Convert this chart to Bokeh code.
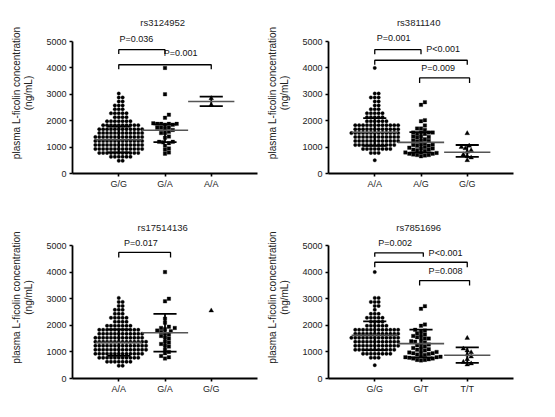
import numpy as np
from bokeh.plotting import figure
from bokeh.layouts import column, row
from bokeh.models import FixedTicker, Label, Range1d
from bokeh.embed import file_html
from bokeh.resources import INLINE

# ---------------- data ----------------
y_ticks = [0, 1000, 2000, 3000, 4000, 5000]
y_label = "plasma L-ficolin concentration\n(ng/mL)"

# rs3124952
p1_title = "rs3124952"
p1_groups = ["G/G", "G/A", "A/A"]
p1_gg = [480, 480,
         630, 630, 630, 630, 630, 630,
         780, 780, 780, 780, 780, 780, 780, 780, 780, 780, 780,
         930, 930, 930, 930, 930, 930, 930, 930, 930, 930, 930, 930, 930,
         1080, 1080, 1080, 1080, 1080, 1080, 1080, 1080, 1080, 1080, 1080, 1080, 1080,
         1230, 1230, 1230, 1230, 1230, 1230, 1230, 1230, 1230, 1230, 1230, 1230, 1230,
         1380, 1380, 1380, 1380, 1380, 1380, 1380, 1380, 1380, 1380, 1380, 1380, 1380,
         1530, 1530, 1530, 1530, 1530, 1530, 1530, 1530, 1530, 1530, 1530, 1530,
         1680, 1680, 1680, 1680, 1680, 1680, 1680, 1680, 1680, 1680, 1680, 1680,
         1830, 1830, 1830, 1830, 1830, 1830, 1830, 1830, 1830, 1830,
         1980, 1980, 1980, 1980, 1980, 1980, 1980,
         2130, 2130, 2130, 2130,
         2280, 2280, 2280, 2280, 2280,
         2430, 2430, 2430,
         2580, 2580, 2580,
         2730, 2730,
         2880, 2880,
         3030]
p1_ga = [4000, 3000, 2230, 2110, 1900, 1880, 1880, 1880, 1880, 1850, 1850, 1730, 1730,
         1730, 1700, 1650, 1580, 1530, 1530, 1400, 1350, 1200, 1200, 1180, 1150, 1050,
         950, 900, 800, 750]
p1_aa = [2600, 2850]
p1_center = [1280, 1640, 2730]
p1_low = [800, 1190, 2550]
p1_high = [1780, 1860, 2910]
p1_pairs = [(1, 2), (1, 3)]
p1_pvals = ["P=0.036", "P=0.001"]

# rs3811140
p2_title = "rs3811140"
p2_groups = ["A/A", "A/G", "G/G"]
p2_aa = [500,
         780, 780, 780,
         930, 930, 930, 930, 930, 930, 930, 930,
         1080, 1080, 1080, 1080, 1080, 1080, 1080, 1080, 1080, 1080, 1080,
         1230, 1230, 1230, 1230, 1230, 1230, 1230, 1230, 1230, 1230, 1230, 1230,
         1380, 1380, 1380, 1380, 1380, 1380, 1380, 1380, 1380, 1380, 1380, 1380,
         1530, 1530, 1530, 1530, 1530, 1530, 1530, 1530, 1530, 1530, 1530, 1530, 1530,
         1680, 1680, 1680, 1680, 1680, 1680, 1680, 1680, 1680, 1680, 1680, 1680,
         1830, 1830, 1830, 1830, 1830, 1830, 1830, 1830, 1830, 1830, 1830, 1830,
         1980, 1980, 1980, 1980, 1980, 1980,
         2130, 2130, 2130, 2130, 2130,
         2280, 2280, 2280, 2280, 2280,
         2430, 2430, 2430,
         2580, 2580,
         2730, 2730,
         2880, 2880, 2880,
         3030, 3030,
         4000]
p2_ag = [2700, 2600, 2020, 1980, 1820, 1700, 1700, 1650, 1550, 1550, 1550, 1550, 1500,
         1500, 1400, 1400, 1380, 1350, 1300, 1250, 1250, 1230, 1200, 1150, 1100, 1100,
         1080, 1050, 1050, 1000, 980, 950, 950, 900, 900, 880, 850, 800, 800, 780, 750,
         750, 720, 700, 700, 680, 650]
p2_gg = [1520, 1050, 1000, 950, 880, 820, 720, 650, 600, 500]
p2_center = [1560, 1180, 805]
p2_low = [1050, 790, 630]
p2_high = [2100, 1570, 1080]
p2_pairs = [(1, 2), (1, 3), (2, 3)]
p2_pvals = ["P=0.001", "P<0.001", "P=0.009"]

# rs17514136
p3_title = "rs17514136"
p3_groups = ["A/A", "G/A", "G/G"]
p3_aa = [480, 480,
         630, 630, 630, 630, 630, 630, 630,
         780, 780, 780, 780, 780, 780, 780, 780, 780, 780, 780,
         930, 930, 930, 930, 930, 930, 930, 930, 930, 930, 930, 930, 930,
         1080, 1080, 1080, 1080, 1080, 1080, 1080, 1080, 1080, 1080, 1080, 1080, 1080, 1080,
         1230, 1230, 1230, 1230, 1230, 1230, 1230, 1230, 1230, 1230, 1230, 1230, 1230, 1230,
         1380, 1380, 1380, 1380, 1380, 1380, 1380, 1380, 1380, 1380, 1380, 1380, 1380, 1380,
         1530, 1530, 1530, 1530, 1530, 1530, 1530, 1530, 1530, 1530, 1530, 1530, 1530,
         1680, 1680, 1680, 1680, 1680, 1680, 1680, 1680, 1680, 1680, 1680, 1680,
         1830, 1830, 1830, 1830, 1830, 1830, 1830, 1830, 1830, 1830, 1830,
         1980, 1980, 1980, 1980, 1980, 1980, 1980,
         2130, 2130, 2130, 2130,
         2280, 2280, 2280, 2280, 2280,
         2430, 2430, 2430,
         2580, 2580, 2580,
         2730, 2730,
         2880, 2880,
         3030]
p3_ga = [4000, 3000, 2900, 2250, 2100, 1950, 1900, 1900, 1850, 1800, 1780, 1750, 1700,
         1650, 1600, 1550, 1500, 1400, 1350, 1300, 1250, 1200, 1100, 1000, 950, 850,
         800, 750]
p3_gg = [2550]
p3_center = [1350, 1720, None]
p3_low = [850, 1010, None]
p3_high = [1850, 2430, None]
p3_pairs = [(1, 2)]
p3_pvals = ["P=0.017"]

# rs7851696
p4_title = "rs7851696"
p4_groups = ["G/G", "G/T", "T/T"]
p4_gg = [500,
         780, 780, 780,
         930, 930, 930, 930, 930, 930, 930, 930,
         1080, 1080, 1080, 1080, 1080, 1080, 1080, 1080, 1080, 1080, 1080,
         1230, 1230, 1230, 1230, 1230, 1230, 1230, 1230, 1230, 1230, 1230, 1230,
         1380, 1380, 1380, 1380, 1380, 1380, 1380, 1380, 1380, 1380, 1380, 1380,
         1530, 1530, 1530, 1530, 1530, 1530, 1530, 1530, 1530, 1530, 1530, 1530, 1530,
         1680, 1680, 1680, 1680, 1680, 1680, 1680, 1680, 1680, 1680, 1680, 1680,
         1830, 1830, 1830, 1830, 1830, 1830, 1830, 1830, 1830, 1830, 1830, 1830,
         1980, 1980, 1980, 1980, 1980, 1980,
         2130, 2130, 2130, 2130,
         2280, 2280, 2280, 2280, 2280,
         2430, 2430, 2430,
         2580,
         2730, 2730,
         2880, 2880, 2880,
         3030, 3030,
         4000]
p4_gt = [2720, 2620, 2030, 1980, 1830, 1800, 1750, 1700, 1650, 1600, 1600, 1550, 1500,
         1500, 1450, 1400, 1380, 1350, 1300, 1280, 1250, 1200, 1150, 1150, 1100, 1080,
         1050, 1000, 1000, 980, 950, 950, 920, 900, 880, 850, 820, 800, 800, 780, 750,
         750, 720, 700, 700, 680]
p4_tt = [1520, 1120, 1050, 980, 900, 820, 720, 620, 560, 520]
p4_center = [1620, 1310, 875]
p4_low = [1065, 790, 590]
p4_high = [2150, 1840, 1170]
p4_pairs = [(1, 2), (1, 3), (2, 3)]
p4_pvals = ["P=0.002", "P<0.001", "P=0.008"]

# ---------------- layout / style ----------------
FONT = "Liberation Sans"
FRAME_W = 185
MARKERS = ["circle", "square", "triangle"]
MARKER_SIZES = [3.5, 3.5, 4.8]

# bracket geometry and P-label positions (data units)
p1_br = [dict(level=4690, drop=160, x0=1, x1=2, lx=1.38, ly=5110),
         dict(level=4120, drop=170, x0=1, x1=3, lx=2.34, ly=4560)]
p2_br = [dict(level=4690, drop=170, x0=1, x1=2, lx=1.41, ly=5120),
         dict(level=4290, drop=170, x0=1, x1=3, lx=2.48, ly=4700),
         dict(level=3620, drop=190, x0=1.97, x1=3.05, lx=2.37, ly=4010)]
p3_br = [dict(level=4740, drop=190, x0=1, x1=2.12, lx=1.48, ly=5100)]
p4_br = [dict(level=4725, drop=150, x0=1, x1=2.05, lx=1.44, ly=5100),
         dict(level=4370, drop=185, x0=1, x1=3, lx=2.53, ly=4725),
         dict(level=3680, drop=180, x0=1.97, x1=3.05, lx=2.53, ly=4060)]


def swarm(vals, xpx, ypx, d=3.9):
    vals = np.asarray(vals, dtype=float)
    order = np.argsort(vals, kind="stable")
    cands = [0.0]
    for k in range(1, 40):
        cands += [k * d / 2.0, -k * d / 2.0]
    placed = []
    offs = np.zeros(len(vals))
    for i in order:
        y = vals[i] * ypx
        near = [(px, py) for px, py in placed if abs(py - y) < d]
        for c in cands:
            if all((c - px) ** 2 + (y - py) ** 2 >= d * d - 1e-6 for px, py in near):
                break
        placed.append((c, y))
        offs[i] = c / xpx
    return offs


def panel(title, groups, data, center, low, high, pairs, pvals, brackets, top, left):
    if top:
        frame_h, px_per, b_top, b_bot, title_y = 161, 132 / 5000.0, 12, 31, 5710
    else:
        frame_h, px_per, b_top, b_bot, title_y = 162, 133 / 5000.0, 12, 26, 5670
    ymax = frame_h / px_per
    b_left = 72 if left else 65
    b_right = 6
    p = figure(width=b_left + FRAME_W + b_right, height=b_top + frame_h + b_bot,
               x_range=Range1d(0, 4), y_range=Range1d(0, ymax),
               output_backend="svg", toolbar_location=None,
               min_border_left=b_left, min_border_right=b_right,
               min_border_top=b_top, min_border_bottom=b_bot)
    p.outline_line_color = None
    p.xgrid.visible = False
    p.ygrid.visible = False
    p.background_fill_color = "white"
    p.border_fill_color = "white"

    p.add_layout(Label(x=1.95, y=title_y, text=title, text_align="center",
                       text_baseline="middle", text_font=FONT,
                       text_font_size="9.5px", text_color="#222222"))

    xpx = FRAME_W / 4.0
    for gi, vals in enumerate(data):
        xs = (gi + 1) + swarm(vals, xpx, px_per)
        p.scatter(x=list(xs), y=list(vals), marker=MARKERS[gi], size=MARKER_SIZES[gi],
                  fill_color="black", line_color="black", line_width=0.3)

    for gi in range(len(groups)):
        c, lo, hi = center[gi], low[gi], high[gi]
        if c is None or len(data[gi]) < 2:
            continue
        x = gi + 1
        p.segment(x0=[x, x - 0.25, x - 0.25], y0=[lo, lo, hi],
                  x1=[x, x + 0.25, x + 0.25], y1=[hi, lo, hi],
                  line_color="black", line_width=1.8)
        p.segment(x0=[x - 0.5], y0=[c], x1=[x + 0.5], y1=[c],
                  line_color="#555555", line_width=1.6)

    for (a, b), txt, br in zip(pairs, pvals, brackets):
        lv, dr = br["level"], br["drop"]
        p.line(x=[br["x0"], br["x0"], br["x1"], br["x1"]],
               y=[lv - dr, lv, lv, lv - dr], line_color="black", line_width=1.3)
        p.add_layout(Label(x=br["lx"], y=br["ly"], text=txt, text_align="center",
                           text_baseline="middle", text_font=FONT,
                           text_font_size="9px", text_color="#111111"))

    p.xaxis.ticker = FixedTicker(ticks=[1, 2, 3])
    p.xaxis.major_label_overrides = {1: groups[0], 2: groups[1], 3: groups[2]}
    p.yaxis.ticker = FixedTicker(ticks=y_ticks)
    p.yaxis.bounds = (0, 5000)
    for ax in (p.xaxis[0], p.yaxis[0]):
        ax.axis_line_width = 1.8
        ax.axis_line_color = "black"
        ax.major_tick_line_width = 1.6
        ax.major_tick_line_color = "black"
        ax.major_tick_out = 3
        ax.major_tick_in = 0
        ax.minor_tick_line_color = None
        ax.major_label_text_font = FONT
        ax.major_label_text_font_size = "9px"
        ax.major_label_text_color = "#222222"
    p.xaxis.major_label_standoff = 2
    p.yaxis.major_label_standoff = 3
    p.yaxis.axis_label = y_label
    p.yaxis.axis_label_text_font = FONT
    p.yaxis.axis_label_text_font_size = "10px"
    p.yaxis.axis_label_text_font_style = "normal"
    p.yaxis.axis_label_text_color = "#222222"
    p.yaxis.axis_label_text_line_height = 1.1
    p.yaxis.axis_label_standoff = 9
    return p


f1 = panel(p1_title, p1_groups, [p1_gg, p1_ga, p1_aa], p1_center, p1_low, p1_high,
           p1_pairs, p1_pvals, p1_br, True, True)
f2 = panel(p2_title, p2_groups, [p2_aa, p2_ag, p2_gg], p2_center, p2_low, p2_high,
           p2_pairs, p2_pvals, p2_br, True, False)
f3 = panel(p3_title, p3_groups, [p3_aa, p3_ga, p3_gg], p3_center, p3_low, p3_high,
           p3_pairs, p3_pvals, p3_br, False, True)
f4 = panel(p4_title, p4_groups, [p4_gg, p4_gt, p4_tt], p4_center, p4_low, p4_high,
           p4_pairs, p4_pvals, p4_br, False, False)

layout = column(row(f1, f2), row(f3, f4))
open("out.html", "w").write(file_html(layout, INLINE))
